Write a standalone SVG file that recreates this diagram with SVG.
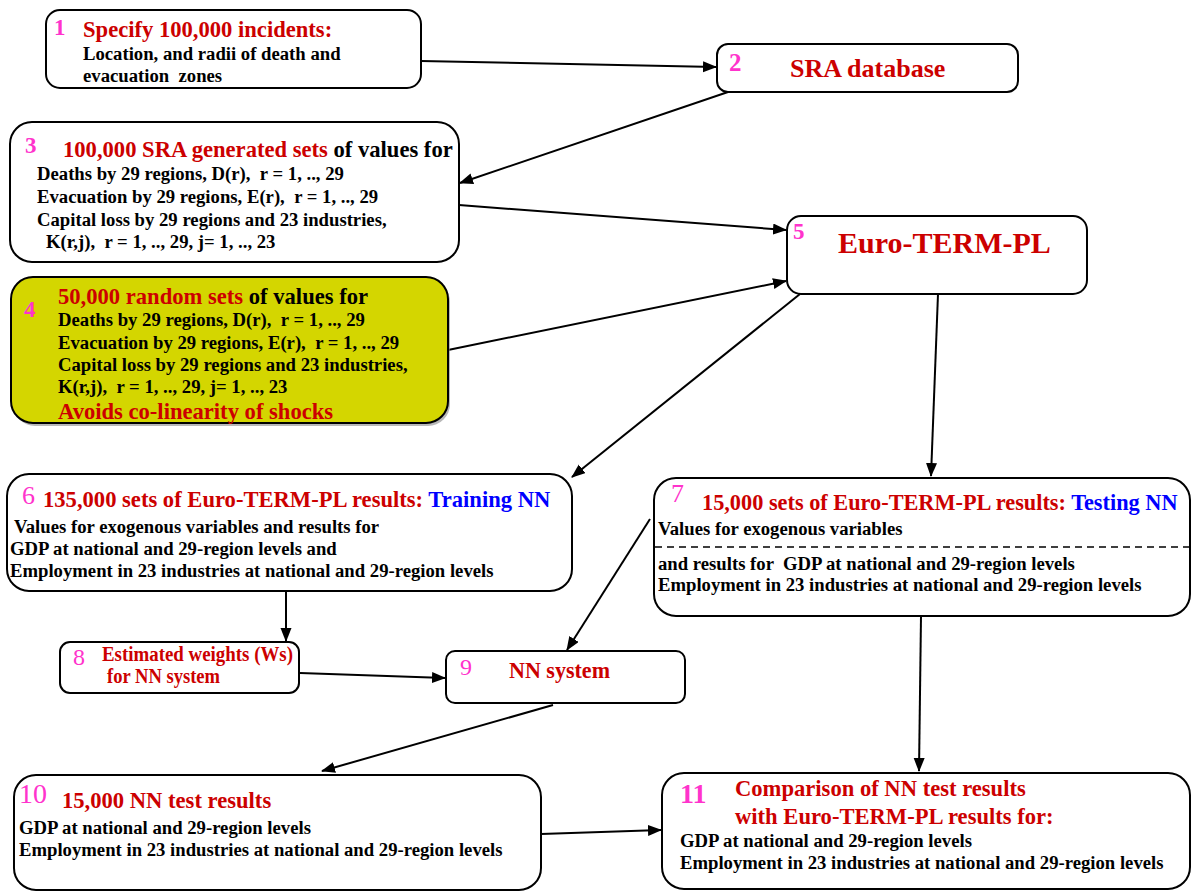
<svg xmlns="http://www.w3.org/2000/svg" width="1192" height="891" viewBox="0 0 1192 891">
<style>
text{font-family:"Liberation Serif","Times New Roman",serif;font-weight:bold;}
.box{fill:#fff;stroke:#000;stroke-width:2;}
.num{fill:#ff33cc;font-size:23px;}
.numr{fill:#ff33cc;font-size:24px;font-weight:normal;}
.t{fill:#cc0000;font-size:22.6px;}
.b{fill:#000;font-size:18.7px;}
.bl{fill:#0000ff;}
.k{fill:#000;}
.c{stroke:#000;stroke-width:2;fill:none;marker-end:url(#ah);}
</style>
<defs>
<marker id="ah" markerUnits="userSpaceOnUse" markerWidth="14" markerHeight="12" refX="13" refY="5.5" orient="auto">
<path d="M0,0 L14,5.5 L0,11 z" fill="#000"/>
</marker>
</defs>
<rect width="1192" height="891" fill="#fff"/>
<g id="connectors">
<line class="c" x1="421" y1="61" x2="716" y2="67"/>
<line class="c" x1="728" y1="92" x2="460" y2="183"/>
<line class="c" x1="459" y1="205" x2="786" y2="230"/>
<line class="c" x1="448" y1="350" x2="786" y2="281"/>
<line class="c" x1="800" y1="294" x2="572" y2="477"/>
<line class="c" x1="938" y1="294" x2="931" y2="476"/>
<line class="c" x1="286" y1="591" x2="286" y2="641"/>
<line class="c" x1="650" y1="519" x2="567" y2="650"/>
<line class="c" x1="300" y1="673" x2="445" y2="678"/>
<line class="c" x1="553" y1="705" x2="322" y2="771"/>
<line class="c" x1="541" y1="834" x2="661" y2="830"/>
<line class="c" x1="921" y1="616" x2="919" y2="771"/>
</g>
<g id="n1">
<rect class="box" x="46" y="10" width="375" height="78" rx="14"/>
<text class="num" x="54" y="35">1</text>
<text class="t" x="83" y="37">Specify 100,000 incidents:</text>
<text class="b" x="83" y="60">Location, and radii of death and</text>
<text class="b" x="83" y="82" xml:space="preserve">evacuation  zones</text>
</g>
<g id="n2">
<rect class="box" x="717" y="44" width="301" height="48" rx="11"/>
<text class="num" x="729" y="71" style="font-size:25px">2</text>
<text class="t" x="790" y="77" style="font-size:26px">SRA database</text>
</g>
<g id="n3">
<rect class="box" x="10" y="122" width="449" height="140" rx="22"/>
<text class="num" x="25" y="153">3</text>
<text class="t" x="63" y="157">100,000 SRA generated sets <tspan class="k">of values for</tspan></text>
<text class="b" x="37" y="180" xml:space="preserve">Deaths by 29 regions, D(r),  r = 1, .., 29</text>
<text class="b" x="37" y="203" xml:space="preserve">Evacuation by 29 regions, E(r),  r = 1, .., 29</text>
<text class="b" x="37" y="226">Capital loss by 29 regions and 23 industries,</text>
<text class="b" x="46" y="248" xml:space="preserve">K(r,j),  r = 1, .., 29, j= 1, .., 23</text>
</g>
<g id="n4">
<rect x="13" y="280" width="437" height="146" rx="22" fill="#888" opacity="0.6"/>
<rect class="box" x="11" y="277" width="437" height="146" rx="22" style="fill:#d4d600"/>
<text class="num" x="24" y="317">4</text>
<text class="t" x="58" y="304">50,000 random sets <tspan class="k">of values for</tspan></text>
<text class="b" x="58" y="326" xml:space="preserve">Deaths by 29 regions, D(r),  r = 1, .., 29</text>
<text class="b" x="58" y="349" xml:space="preserve">Evacuation by 29 regions, E(r),  r = 1, .., 29</text>
<text class="b" x="58" y="371">Capital loss by 29 regions and 23 industries,</text>
<text class="b" x="58" y="393" xml:space="preserve">K(r,j),  r = 1, .., 29, j= 1, .., 23</text>
<text class="t" x="58" y="419">Avoids co-linearity of shocks</text>
</g>
<g id="n5">
<rect class="box" x="787" y="216" width="300" height="78" rx="14"/>
<text class="num" x="793" y="239">5</text>
<text class="t" x="838" y="253" style="font-size:30px">Euro-TERM-PL</text>
</g>
<g id="n6">
<rect class="box" x="7" y="474" width="565" height="117" rx="22"/>
<text class="numr" x="22" y="504" style="font-size:26px">6</text>
<text class="t" x="43" y="507">135,000 sets of Euro-TERM-PL results: <tspan class="bl">Training NN</tspan></text>
<text class="b" x="14" y="533">Values for exogenous variables and results for</text>
<text class="b" x="10" y="555">GDP at national and 29-region levels and</text>
<text class="b" x="10" y="577">Employment in 23 industries at national and 29-region levels</text>
</g>
<g id="n7">
<rect class="box" x="654" y="478" width="536" height="138" rx="22"/>
<text class="numr" x="671" y="502" style="font-size:26px">7</text>
<text class="t" x="702" y="510" style="font-size:22.3px">15,000 sets of Euro-TERM-PL results: <tspan class="bl">Testing NN</tspan></text>
<text class="b" x="658" y="535">Values for exogenous variables</text>
<line x1="655" y1="547" x2="1190" y2="547" stroke="#000" stroke-width="1.5" stroke-dasharray="7,5"/>
<text class="b" x="658" y="570" xml:space="preserve">and results for  GDP at national and 29-region levels</text>
<text class="b" x="658" y="591">Employment in 23 industries at national and 29-region levels</text>
</g>
<g id="n8">
<rect class="box" x="60" y="642" width="239" height="51" rx="10"/>
<text class="numr" x="73" y="665">8</text>
<text class="t" x="102" y="661" style="font-size:20px" textLength="191" lengthAdjust="spacingAndGlyphs">Estimated weights (Ws)</text>
<text class="t" x="107" y="683" style="font-size:20px" textLength="113" lengthAdjust="spacingAndGlyphs">for NN system</text>
</g>
<g id="n9">
<rect class="box" x="446" y="651" width="239" height="52" rx="9"/>
<text class="numr" x="460" y="675">9</text>
<text class="t" x="509" y="678" textLength="101" lengthAdjust="spacingAndGlyphs">NN system</text>
</g>
<g id="n10">
<rect class="box" x="14" y="775" width="527" height="115" rx="22"/>
<text class="numr" x="19" y="803" style="font-size:28px">10</text>
<text class="t" x="62" y="808">15,000 NN test results</text>
<text class="b" x="19" y="834">GDP at national and 29-region levels</text>
<text class="b" x="19" y="856">Employment in 23 industries at national and 29-region levels</text>
</g>
<g id="n11">
<rect class="box" x="662" y="773" width="528" height="116" rx="22"/>
<text class="num" x="680" y="803" style="font-size:28px">11</text>
<text class="t" x="735" y="796">Comparison of NN test results</text>
<text class="t" x="735" y="824">with Euro-TERM-PL results for:</text>
<text class="b" x="680" y="847">GDP at national and 29-region levels</text>
<text class="b" x="680" y="869">Employment in 23 industries at national and 29-region levels</text>
</g>
</svg>
